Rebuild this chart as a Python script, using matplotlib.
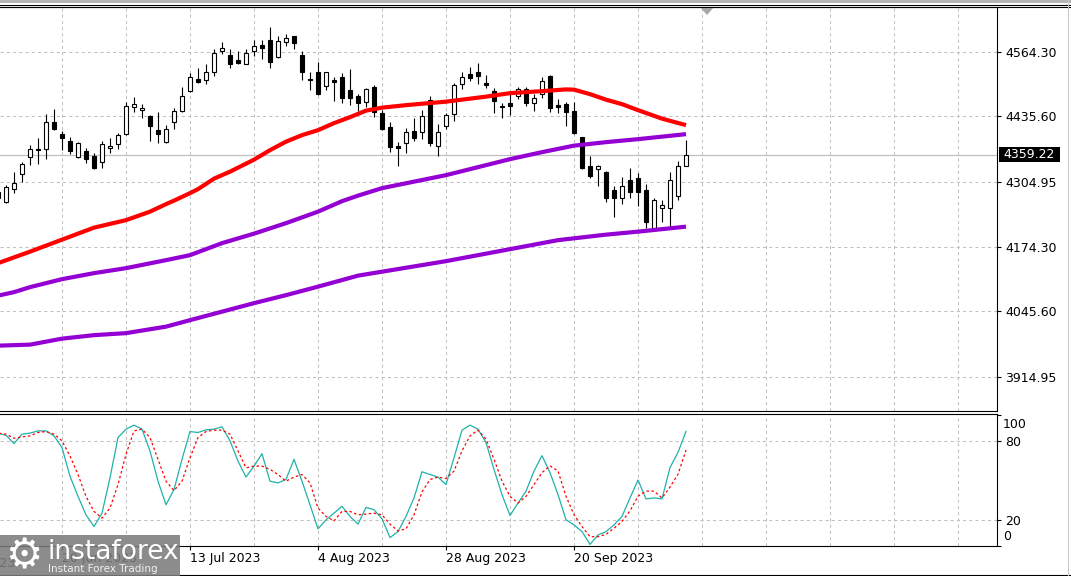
import matplotlib
matplotlib.use('Agg')
import matplotlib.pyplot as plt
from matplotlib.patches import Rectangle, Polygon
from matplotlib.lines import Line2D
import numpy as np

plt.rcParams['font.family'] = ['DejaVu Sans']

W, H = 1071, 576

# daily bars, numbered from the first visible one
bars = list(range(-1, 86))
opens = [4273.0, 4263.7, 4289.7, 4319.7, 4353.7, 4369.0, 4369.7, 4423.7, 4400.3, 4386.3,
         4355.0, 4366.3, 4356.3, 4343.7, 4371.7, 4379.7, 4400.9, 4453.7, 4447.7, 4436.3,
         4408.3, 4384.9, 4423.7, 4446.3, 4486.9, 4510.3, 4508.3, 4524.9, 4565.7, 4558.3,
         4548.3, 4539.7, 4566.3, 4578.3, 4588.3, 4554.9, 4583.7, 4596.3, 4558.3, 4510.3,
         4523.7, 4496.3, 4508.3, 4513.7, 4488.3, 4476.3, 4464.9, 4493.7, 4441.7, 4413.7,
         4376.3, 4381.7, 4406.3, 4405.0, 4468.3, 4376.3, 4416.3, 4439.7, 4499.7, 4519.7,
         4524.9, 4501.7, 4486.3, 4457.0, 4461.7, 4476.3, 4489.7, 4462.9, 4479.7, 4516.3,
         4458.3, 4459.7, 4446.3, 4393.7, 4336.3, 4330.3, 4324.9, 4288.3, 4272.9, 4308.3,
         4311.7, 4288.3, 4208.3, 4251.7, 4251.7, 4276.9, 4337.0]
highs = [4290.0, 4298.3, 4324.9, 4343.7, 4378.3, 4392.9, 4439.7, 4450.3, 4406.3, 4395.0,
         4383.7, 4371.7, 4363.0, 4387.0, 4392.9, 4401.7, 4464.9, 4474.9, 4459.7, 4438.3,
         4443.7, 4418.3, 4451.7, 4494.9, 4521.7, 4531.7, 4539.7, 4570.3, 4584.9, 4570.3,
         4566.3, 4570.3, 4588.3, 4588.3, 4614.9, 4596.9, 4599.7, 4596.3, 4566.3, 4524.9,
         4543.7, 4524.9, 4514.9, 4521.7, 4530.3, 4479.7, 4492.9, 4498.3, 4448.3, 4424.9,
         4383.7, 4411.7, 4431.7, 4448.3, 4476.9, 4419.7, 4441.7, 4501.7, 4523.7, 4533.7,
         4541.7, 4518.3, 4491.7, 4461.7, 4481.7, 4494.9, 4494.9, 4479.7, 4514.9, 4518.3,
         4470.3, 4463.7, 4464.9, 4394.9, 4356.3, 4338.3, 4326.9, 4296.3, 4314.9, 4331.7,
         4321.7, 4299.7, 4271.7, 4268.3, 4324.9, 4346.3, 4388.3]
lows = [4270.0, 4261.7, 4281.7, 4304.9, 4338.3, 4339.7, 4349.7, 4407.7, 4368.3, 4361.0,
        4351.7, 4341.7, 4329.7, 4331.7, 4361.7, 4370.3, 4398.3, 4444.9, 4433.0, 4386.3,
        4381.7, 4381.7, 4409.7, 4444.9, 4484.9, 4502.9, 4500.9, 4516.9, 4559.7, 4531.7,
        4539.7, 4539.7, 4556.3, 4550.3, 4532.9, 4551.7, 4576.9, 4570.3, 4508.3, 4488.3,
        4478.3, 4488.3, 4466.3, 4462.9, 4458.3, 4446.3, 4454.9, 4433.7, 4408.3, 4364.9,
        4337.0, 4361.7, 4386.3, 4390.3, 4376.9, 4357.0, 4409.7, 4426.9, 4489.7, 4506.3,
        4499.7, 4491.7, 4443.0, 4431.7, 4438.3, 4470.3, 4456.3, 4446.3, 4472.9, 4444.9,
        4441.7, 4417.0, 4400.3, 4330.3, 4312.9, 4296.9, 4263.7, 4235.0, 4259.7, 4271.7,
        4256.3, 4212.9, 4206.3, 4224.9, 4211.7, 4268.3, 4335.7]
closes = [4285.0, 4294.9, 4301.7, 4339.7, 4369.7, 4370.5, 4423.7, 4410.3, 4392.9, 4366.3,
          4381.7, 4349.7, 4331.7, 4379.7, 4376.3, 4398.3, 4456.3, 4460.3, 4451.7, 4417.0,
          4400.3, 4409.7, 4446.3, 4476.3, 4514.9, 4504.9, 4524.9, 4561.7, 4571.7, 4539.7,
          4541.7, 4561.7, 4576.3, 4571.7, 4543.7, 4586.3, 4591.7, 4581.7, 4523.7, 4507.7,
          4480.3, 4523.7, 4504.9, 4471.7, 4471.7, 4462.9, 4489.7, 4443.7, 4409.7, 4373.7,
          4371.7, 4403.7, 4392.9, 4437.0, 4382.9, 4405.0, 4438.3, 4498.3, 4514.9, 4511.7,
          4516.9, 4498.3, 4466.9, 4453.7, 4457.0, 4489.7, 4462.9, 4471.7, 4506.3, 4451.7,
          4453.7, 4444.9, 4401.7, 4331.7, 4316.9, 4336.3, 4272.9, 4271.7, 4296.9, 4284.9,
          4284.9, 4224.9, 4268.3, 4258.3, 4308.3, 4336.3, 4359.22]

# moving averages, read at a subset of bars
ma_fast_bars = [-1, 3, 7, 11, 15, 18, 20, 21, 23, 24, 26, 28, 31, 33, 35, 37, 39, 41, 43, 45,
                47, 50, 55, 60, 63, 67, 70, 71, 73, 75, 77, 79, 82, 85]
ma_fast = [4142, 4165, 4189, 4213, 4228, 4245, 4260, 4267, 4282, 4290, 4311, 4325, 4349, 4368,
           4385, 4398, 4408, 4422, 4434, 4447, 4453, 4458, 4465, 4475, 4482, 4486, 4489.5, 4489,
           4480, 4469, 4460, 4448, 4431, 4418]
ma_mid_bars = [-1, 1, 3, 7, 11, 15, 20, 23, 27, 31, 35, 39, 42, 44, 47, 55, 63, 67, 71, 75, 79, 85]
ma_mid = [4077, 4084, 4094, 4110, 4122, 4132, 4148, 4158, 4182, 4201, 4222, 4245, 4266, 4277,
          4292, 4318, 4350, 4364, 4377, 4384, 4390, 4400]
ma_long_bars = [-1, 3, 7, 11, 15, 20, 23, 27, 31, 35, 39, 44, 55, 65, 69, 75, 79, 85]
ma_long = [3977, 3979, 3991, 3998, 4002, 4015, 4028, 4045, 4062, 4078, 4095, 4117, 4146, 4176,
           4188, 4199, 4205, 4215]

# stochastic oscillator
stoch_k = [86.0, 84.6, 78.2, 85.4, 86.2, 87.9, 87.9, 84.1, 75.1, 53.3, 37.9, 23.8, 14.9, 25.1, 52.1,
           82.8, 89.2, 92.3, 89.2, 72.6, 49.5, 31.5, 43.1, 66.2, 87.4, 86.7, 88.7, 89.2, 91.0, 80.3,
           64.9, 52.6, 61.0, 70.5, 49.5, 48.2, 50.8, 66.2, 49.5, 31.5, 13.1, 20.0, 25.1, 30.3, 22.6,
           16.7, 29.5, 27.7, 20.8, 6.4, 11.0, 22.6, 36.7, 56.7, 54.6, 52.6, 46.9, 67.4, 88.5, 92.3,
           89.2, 79.0, 58.5, 39.2, 23.3, 32.8, 41.8, 57.2, 69.0, 56.0, 39.3, 20.0, 16.1, 11.0, 1.2,
           8.4, 11.0, 16.1, 22.6, 36.7, 50.4, 36.0, 36.7, 36.0, 59.9, 71.5, 87.5]
stoch_d = [86.2, 85.4, 82.3, 83.3, 84.1, 86.7, 87.4, 85.4, 80.3, 68.7, 54.6, 37.9, 26.4, 21.3, 29.0,
           46.9, 70.0, 87.9, 89.2, 82.8, 66.2, 49.5, 42.3, 49.5, 67.4, 82.8, 87.4, 88.5, 88.5, 85.4,
           72.6, 59.7, 61.0, 61.0, 58.5, 54.6, 49.5, 52.6, 54.6, 48.2, 29.0, 22.6, 19.2, 26.4, 26.4,
           23.8, 24.4, 25.1, 23.8, 16.7, 11.5, 13.1, 23.8, 41.3, 50.8, 52.6, 51.5, 57.2, 72.6, 84.1,
           88.5, 81.5, 66.2, 49.5, 37.9, 32.8, 37.9, 46.9, 56.0, 61.2, 57.3, 38.0, 23.9, 14.8, 7.1,
           7.1, 8.9, 13.6, 18.7, 26.9, 38.0, 41.9, 41.9, 36.7, 45.0, 54.8, 73.3]

price_ticks = [4564.30, 4435.60, 4304.95, 4174.30, 4045.60, 3914.95]
last_price = 4359.22
date_bars = [7, 23, 39, 55, 71]
date_labels = ['20 Jun 2023', '13 Jul 2023', '4 Aug 2023', '28 Aug 2023', '20 Sep 2023']
grid_bars = list(range(7, 124, 8))


def box(l, t, r, b):
    return [l / W, 1 - b / H, (r - l) / W, (b - t) / H]


fig = plt.figure(figsize=(W / 100, H / 100), dpi=100)
ax = fig.add_axes(box(0, 7, 997, 411))
ax2 = fig.add_axes(box(0, 414, 997, 546))

GRID = dict(color='#c0c0c0', lw=0.75, ls=(0, (3, 3)), zorder=1)
for a in (ax, ax2):
    a.set_xlim(-0.75, 123.875)
    a.spines['left'].set_visible(False)
    for s in ('top', 'right', 'bottom'):
        a.spines[s].set_linewidth(0.8)
    for gx in grid_bars:
        a.axvline(gx, **GRID)

# ---- price panel
ax.set_ylim(3846.3, 4654.3)
for p in price_ticks:
    ax.axhline(p, **GRID)
ax.axhline(last_price, color='#c0c0c0', lw=0.9, zorder=1)

o = np.array(opens)
c = np.array(closes)
rising = c >= o
ax.vlines(bars, lows, highs, color='black', lw=0.8, zorder=3)
ax.bar(bars, np.abs(c - o), bottom=np.minimum(o, c), width=0.5,
       color=np.where(rising, 'white', 'black'), edgecolor='black', linewidth=0.8, zorder=4)

ax.plot(ma_fast_bars, ma_fast, color='#ff0000', lw=3, zorder=5, solid_capstyle='butt')
ax.plot(ma_mid_bars, ma_mid, color='#9400d3', lw=3, zorder=5, solid_capstyle='butt')
ax.plot(ma_long_bars, ma_long, color='#9400d3', lw=3, zorder=5, solid_capstyle='butt')

ax.set_xticks([])
ax.yaxis.tick_right()
ax.set_yticks(price_ticks)
ax.set_yticklabels([f'{p:.2f}' for p in price_ticks])
ax.tick_params(axis='y', direction='out', length=3, width=0.8, pad=3, labelsize=9)

# last-price marker on the scale
ax.add_patch(Rectangle((1.002, last_price - 15), 0.061, 30, transform=ax.get_yaxis_transform(),
                       facecolor='black', edgecolor='none', clip_on=False, zorder=6))
ax.text(1.006, last_price, f'{last_price:.2f}', transform=ax.get_yaxis_transform(),
        ha='left', va='center', fontsize=9, color='white', zorder=7, clip_on=False)

# ---- oscillator panel
ax2.set_ylim(0.3, 100.8)
ax2.axhline(80, **GRID)
ax2.axhline(20, **GRID)
ax2.plot(bars, stoch_k, color='#20b2aa', lw=0.9, zorder=3)
ax2.plot(bars, stoch_d, color='#ff0000', lw=0.9, ls=(0, (2, 2)), zorder=3)
ax2.yaxis.tick_right()
ax2.set_yticks([0, 20, 80, 100])
ax2.set_yticklabels(['', '20', '80', ''])
ax2.tick_params(axis='y', direction='out', length=3, width=0.8, pad=3, labelsize=9)
ax2.text(1.006, 93.0, '100', transform=ax2.get_yaxis_transform(), ha='left', va='center', fontsize=9)
ax2.text(1.006, 7.2, '0', transform=ax2.get_yaxis_transform(), ha='left', va='center', fontsize=9)
ax2.set_xticks(date_bars)
ax2.set_xticklabels(date_labels, ha='left')
ax2.tick_params(axis='x', direction='out', length=3, width=0.8, pad=1, labelsize=9)
ax2.text(-9, -0.08, '26 May 2023', transform=ax2.get_xaxis_transform(),
         ha='left', va='top', fontsize=9)

# ---- frame decorations
fig.add_artist(Rectangle((0, 1 - 2.5 / H), 1, 2.5 / H, transform=fig.transFigure,
                         facecolor='#b4b4b4', edgecolor='none'))
fig.add_artist(Line2D([0, 1], [1 - 4.7 / H, 1 - 4.7 / H], transform=fig.transFigure, color='black', lw=0.8))
fig.add_artist(Line2D([0, 1], [1 - 7 / H, 1 - 7 / H], transform=fig.transFigure, color='black', lw=0.8))
fig.add_artist(Line2D([0, 1], [1 - 575 / H, 1 - 575 / H], transform=fig.transFigure, color='black', lw=0.8))
fig.add_artist(Line2D([1068 / W, 1068 / W], [0, 1], transform=fig.transFigure, color='#c8c8c8', lw=0.8))
fig.add_artist(Polygon([[700 / W, 1 - 7 / H], [714 / W, 1 - 7 / H], [707 / W, 1 - 15 / H]],
                       closed=True, transform=fig.transFigure, facecolor='#a8a8a8', edgecolor='none'))

# ---- watermark logo
fig.add_artist(Rectangle((0, 0), 180 / W, (576 - 535) / H, transform=fig.transFigure,
                         facecolor='#7c7c7c', alpha=0.88, edgecolor='none', zorder=10))
fig.text(24 / W, 1 - 556 / H, '\u2699', fontsize=30, color='white', ha='center', va='center', zorder=11)
fig.text(47 / W, 1 - 552 / H, 'instaforex', fontsize=19, color='white', ha='left', va='center',
         zorder=11, family=['Liberation Sans Narrow', 'DejaVu Sans'])
fig.text(48 / W, 1 - 569 / H, 'Instant Forex Trading', fontsize=7.5, color='#f0f0f0',
         ha='left', va='center', zorder=11)

fig.savefig('out.png', dpi=100, facecolor='white')
